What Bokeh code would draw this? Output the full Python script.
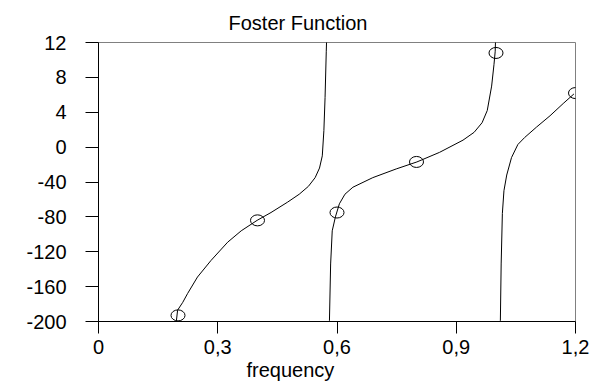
from bokeh.plotting import figure
from bokeh.models import Range1d, FixedTicker, Title
from bokeh.embed import file_html
from bokeh.resources import INLINE

# ---- data ----
branch1_x = [0.191, 0.196, 0.199, 0.212, 0.224, 0.249, 0.283, 0.325, 0.359, 0.399, 0.434, 0.476, 0.505, 0.528, 0.545, 0.556, 0.563, 0.567, 0.570, 0.573, 0.574]
branch1_y = [-205, -199, -187, -178, -168, -149, -130, -109, -96, -84, -75, -63, -54, -45, -35, -24, -10, 19, 57, 110, 125]

branch2_x = [0.580, 0.581, 0.584, 0.588, 0.596, 0.606, 0.620, 0.640, 0.690, 0.749, 0.801, 0.858, 0.917, 0.945, 0.965, 0.978, 0.989, 0.995, 0.998, 0.999]
branch2_y = [-205, -199, -134, -96, -80, -65, -54, -46, -35, -25, -17, -6, 8, 17, 28, 42, 70, 95, 110, 125]

branch3_x = [1.011, 1.011, 1.013, 1.016, 1.020, 1.027, 1.039, 1.055, 1.072, 1.102, 1.136, 1.169, 1.196]
branch3_y = [-205, -199, -134, -76, -50, -32, -12, 3, 11, 23, 36, 50, 61]

marker_x = [0.2, 0.4, 0.6, 0.8, 1.0, 1.2]
marker_y = [-193, -84, -75, -17, 108, 62]

x_ticks = [0, 0.3, 0.6, 0.9, 1.2]
x_tick_labels = ["0", "0,3", "0,6", "0,9", "1,2"]
y_ticks = [120, 80, 40, 0, -40, -80, -120, -160, -200]
y_tick_labels = ["12", "8", "4", "0", "-40", "-80", "-120", "-160", "-200"]

title_text = "Foster Function"
x_label_text = "frequency"

FONT = "Liberation Sans"

p = figure(width=603, height=390, output_backend="svg", toolbar_location=None,
           x_range=Range1d(0, 1.2), y_range=Range1d(-200, 120),
           min_border_left=98, min_border_right=28, min_border_top=42, min_border_bottom=69)

p.background_fill_color = "white"
p.border_fill_color = "white"
p.outline_line_color = "#808080"
p.xgrid.visible = False
p.ygrid.visible = False

for ax in (p.xaxis[0], p.yaxis[0]):
    ax.axis_line_color = "black"
    ax.major_tick_line_color = "black"
    ax.minor_tick_line_color = None
    ax.major_tick_in = 0
    ax.major_label_text_font = FONT
    ax.major_label_text_font_size = "20px"
    ax.major_label_text_color = "black"

p.xaxis[0].ticker = FixedTicker(ticks=x_ticks)
p.xaxis[0].major_label_overrides = {t: l for t, l in zip(x_ticks, x_tick_labels)}
p.xaxis[0].major_tick_out = 12
p.xaxis[0].major_label_standoff = 6

p.yaxis[0].ticker = FixedTicker(ticks=y_ticks)
p.yaxis[0].major_label_overrides = {t: l for t, l in zip(y_ticks, y_tick_labels)}
p.yaxis[0].major_tick_out = 13
p.yaxis[0].major_label_standoff = 19

# title above (left aligned with offset to match reference position)
t = Title(text=title_text, align="left", offset=130, text_font=FONT,
          text_font_size="20px", text_font_style="normal", text_color="black", standoff=18)
p.add_layout(t, "above")

# x-axis caption below the tick labels
xl = Title(text=x_label_text, align="left", offset=148, text_font=FONT,
           text_font_size="20px", text_font_style="normal", text_color="black",
           standoff=4, vertical_align="top")
p.add_layout(xl, "below")

for bx, by in ((branch1_x, branch1_y), (branch2_x, branch2_y), (branch3_x, branch3_y)):
    p.line(bx, by, line_color="black", line_width=1)

p.ellipse(marker_x, marker_y, width=14, height=11, width_units="screen", height_units="screen",
          fill_color=None, line_color="black", line_width=1)

open("out.html", "w").write(file_html(p, INLINE))
